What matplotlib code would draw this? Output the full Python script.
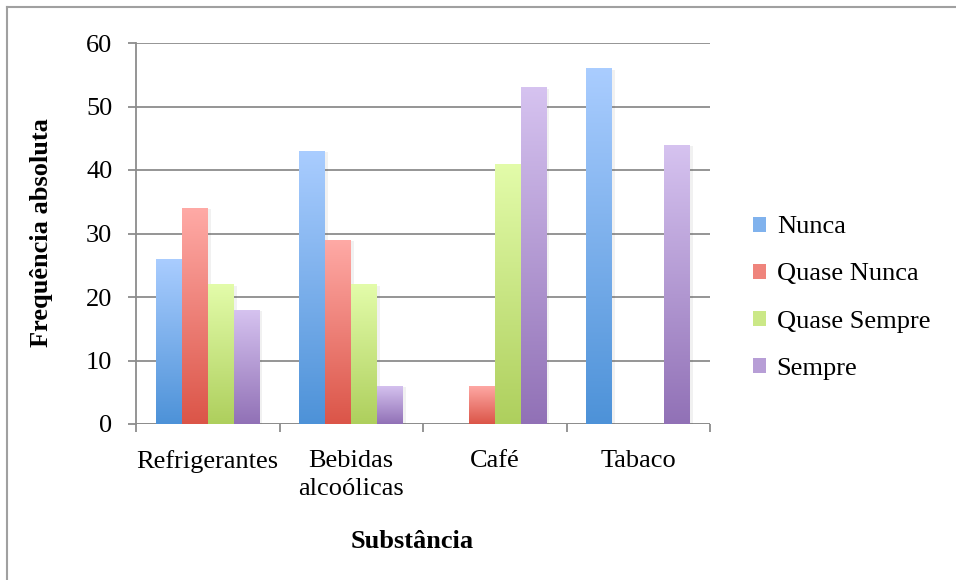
import numpy as np
import matplotlib.pyplot as plt
from matplotlib.colors import LinearSegmentedColormap
from matplotlib.patches import Patch
from matplotlib.lines import Line2D
import matplotlib.patheffects as pe

categorias = ['Refrigerantes', 'Bebidas\nalcoólicas', 'Café', 'Tabaco']
series = ['Nunca', 'Quase Nunca', 'Quase Sempre', 'Sempre']
nunca = [26, 43, 0, 56]
quase_nunca = [34, 29, 6, 0]
quase_sempre = [22, 22, 41, 0]
sempre = [18, 6, 53, 44]
valores = [nunca, quase_nunca, quase_sempre, sempre]

# cor do topo e da base de cada serie (gradiente vertical)
cores = [('#aacdff', '#4d92d8'),
         ('#ffaaa6', '#db5548'),
         ('#e3fcaa', '#aecf5d'),
         ('#d6c3f0', '#9171b6')]

plt.rcParams['font.family'] = ['Liberation Serif', 'DejaVu Serif']
plt.rcParams['font.size'] = 19

fig = plt.figure(figsize=(9.56, 5.8), dpi=100)
ax = fig.add_axes([136/956, 1-424/580, 574/956, 381/580])

x = np.arange(len(categorias))
w = 0.181
grad = np.linspace(0, 1, 256).reshape(-1, 1)

for i, (vals, (topo, base)) in enumerate(zip(valores, cores)):
    pos = x + (i - 1.5) * w
    bars = ax.bar(pos, vals, w, color='none', zorder=3,
                  path_effects=[pe.SimplePatchShadow(offset=(2, -1), alpha=0.08),
                                pe.Normal()])
    cmap = LinearSegmentedColormap.from_list('g%d' % i, [base, topo])
    for b in bars:
        h = b.get_height()
        if h <= 0:
            continue
        x0 = b.get_x()
        im = ax.imshow(grad, cmap=cmap, origin='lower', aspect='auto',
                       extent=[x0, x0 + w, 0, h], zorder=3)
        im.set_clip_path(b)

ax.set_xlim(-0.5, 3.5)
ax.set_ylim(0, 60)
ax.set_yticks(range(0, 61, 10))
ax.set_xticks(x)
ax.set_xticklabels(categorias, linespacing=1.35)
ax.set_xticks(np.arange(-0.5, 4, 1), minor=True)

cinza = '#8c8c8c'
ax.grid(axis='y', color=cinza, lw=1.3, zorder=1)
ax.set_axisbelow(True)
for s in ['top', 'right', 'bottom']:
    ax.spines[s].set_visible(False)
ax.spines['left'].set_color(cinza)
ax.spines['left'].set_linewidth(1.3)
ax.axhline(0, color=cinza, lw=1.3, zorder=2)

ax.tick_params(axis='y', length=6, width=1.3, color=cinza, pad=11)
ax.tick_params(axis='x', which='major', length=0, pad=19)
ax.tick_params(axis='x', which='minor', length=6, width=1.3, color=cinza)

fig.text(42/956, 1-233/580, 'Frequência absoluta', rotation=90,
         ha='center', va='center', fontweight='bold')
fig.text(412/956, 1-541/580, 'Substância',
         ha='center', va='center', fontweight='bold')

handles = [Patch(facecolor=LinearSegmentedColormap.from_list('m', [c[1], c[0]])(0.55),
                 edgecolor='none') for c in cores]
fig.legend(handles, series, loc='center left',
           bbox_to_anchor=(753/956, 1-298/580), frameon=False,
           handlelength=0.5, handleheight=0.5, handletextpad=0.4,
           labelspacing=0.95, borderaxespad=0, borderpad=0)

# moldura do grafico (so topo e esquerda aparecem)
fig.add_artist(Line2D([7/956, 1], [1-7/580, 1-7/580], color='#a0a0a0', lw=1.5))
fig.add_artist(Line2D([7/956, 7/956], [0, 1-7/580], color='#a0a0a0', lw=1.5))

fig.savefig('out.png', dpi=100)
